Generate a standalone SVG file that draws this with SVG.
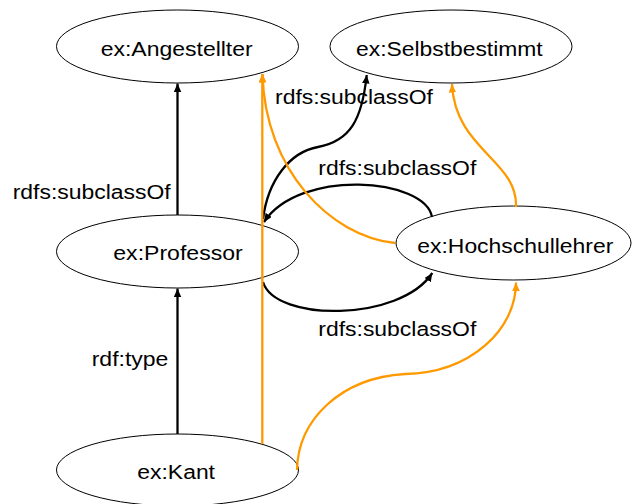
<svg xmlns="http://www.w3.org/2000/svg" width="632" height="504" viewBox="0 0 632 504">
  <style>
    .node ellipse { fill: #ffffff; stroke: #000000; stroke-width: 1; }
    text { font-family: "Liberation Sans", Arial, Helvetica, sans-serif; font-size: 20px; fill: #000000; }
    .edge { fill: none; stroke-width: 2.3; }
    .black { stroke: #000000; marker-end: url(#arrowBlack); }
    .orange { stroke: #ff9900; marker-end: url(#arrowOrange); }
  </style>
  <defs>
    <marker id="arrowBlack" markerUnits="userSpaceOnUse" markerWidth="10" markerHeight="9" refX="8.5" refY="3.75" orient="auto">
      <path d="M0,0 L8.5,3.75 L0,7.5 z" fill="#000000"/>
    </marker>
    <marker id="arrowOrange" markerUnits="userSpaceOnUse" markerWidth="10" markerHeight="9" refX="8.5" refY="3.75" orient="auto">
      <path d="M0,0 L8.5,3.75 L0,7.5 z" fill="#ff9900"/>
    </marker>
  </defs>

  <rect x="0" y="0" width="632" height="504" fill="#ffffff"/>

  <!-- nodes -->
  <g id="angestellter" class="node">
    <ellipse cx="177.5" cy="46.5" rx="121" ry="36.5"/>
    <text x="100.7" y="56" textLength="152" lengthAdjust="spacingAndGlyphs">ex:Angestellter</text>
  </g>
  <g id="selbstbestimmt" class="node">
    <ellipse cx="451" cy="46.5" rx="121" ry="36.5"/>
    <text x="356" y="56" textLength="186.7" lengthAdjust="spacingAndGlyphs">ex:Selbstbestimmt</text>
  </g>
  <g id="professor" class="node">
    <ellipse cx="177.5" cy="251.5" rx="121" ry="36.5"/>
    <text x="113.3" y="260" textLength="129.4" lengthAdjust="spacingAndGlyphs">ex:Professor</text>
  </g>
  <g id="hochschullehrer" class="node">
    <ellipse cx="513.5" cy="243" rx="117.5" ry="37"/>
    <text x="417.3" y="253" textLength="196" lengthAdjust="spacingAndGlyphs">ex:Hochschullehrer</text>
  </g>
  <g id="kant" class="node">
    <ellipse cx="177.5" cy="470" rx="121" ry="36"/>
    <text x="137.3" y="479.3" textLength="77.7" lengthAdjust="spacingAndGlyphs">ex:Kant</text>
  </g>

  <!-- connectors -->
  <g id="connectors">
    <!-- explicit statements -->
    <path class="edge black" d="M177.5,215 L177.5,83.5"/>
    <path class="edge black" d="M177.5,434 L177.5,288.5"/>
    <path class="edge black" d="M263,219 C268,180 290,152 318,147 C350,141 362,120 366.7,75"/>
    <path class="edge black" d="M432,217 C425,178 300,168 264,222"/>
    <path class="edge black" d="M263,282 C275,322 400,322 432.3,273"/>

    <!-- inferred statements -->
    <path class="edge orange" d="M262.3,444 L262.3,74"/>
    <path class="edge orange" d="M395,243 C330,236 265,170 262.5,74"/>
    <path class="edge orange" d="M516,207 C518,160 455,150 452,84"/>
    <path class="edge orange" d="M297,470 C298,420 340,378 405,374 C470,373 516,330 516,282.5"/>

    <!-- labels -->
    <text x="12.7" y="199.3" textLength="158" lengthAdjust="spacingAndGlyphs">rdfs:subclassOf</text>
    <text x="275" y="104" textLength="158" lengthAdjust="spacingAndGlyphs">rdfs:subclassOf</text>
    <text x="318.3" y="175" textLength="158" lengthAdjust="spacingAndGlyphs">rdfs:subclassOf</text>
    <text x="318.3" y="336" textLength="158" lengthAdjust="spacingAndGlyphs">rdfs:subclassOf</text>
    <text x="91.7" y="366" textLength="76.7" lengthAdjust="spacingAndGlyphs">rdf:type</text>
  </g>
</svg>
